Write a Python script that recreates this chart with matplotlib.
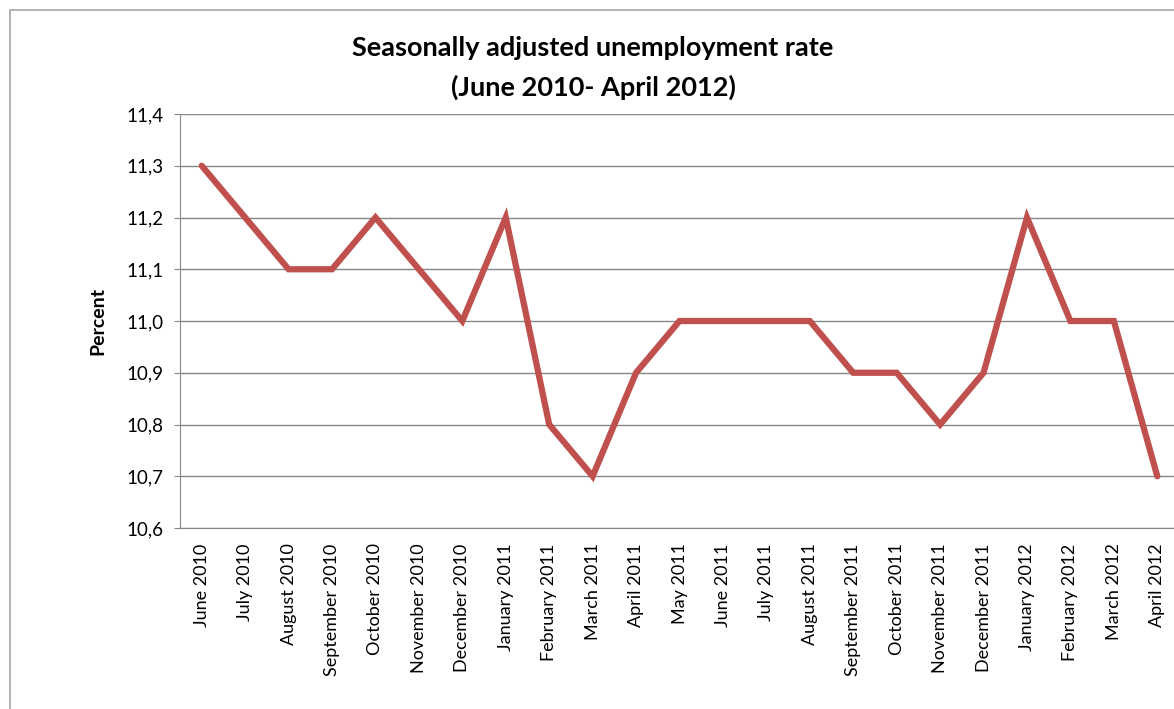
import numpy as np
import matplotlib.pyplot as plt
from matplotlib.ticker import FuncFormatter
from matplotlib.patches import Rectangle

months = ["June 2010", "July 2010", "August 2010", "September 2010", "October 2010",
          "November 2010", "December 2010", "January 2011", "February 2011", "March 2011",
          "April 2011", "May 2011", "June 2011", "July 2011", "August 2011",
          "September 2011", "October 2011", "November 2011", "December 2011",
          "January 2012", "February 2012", "March 2012", "April 2012"]
rate = [11.3, 11.2, 11.1, 11.1, 11.2, 11.1, 11.0, 11.2, 10.8, 10.7,
        10.9, 11.0, 11.0, 11.0, 11.0, 10.9, 10.9, 10.8, 10.9,
        11.2, 11.0, 11.0, 10.7]

plt.rcParams['font.family'] = ['Lato', 'DejaVu Sans']

W, H = 1174, 709
fig = plt.figure(figsize=(W / 100, H / 100), dpi=100)
fig.patches.append(Rectangle((10 / W, -0.1), 1.2, 1 - 10 / H + 0.1, transform=fig.transFigure,
                             fill=False, edgecolor='#a6a6a6', lw=1.2))

ax = fig.add_axes([180 / W, (H - 528) / H, (1179 - 180) / W, 414 / H])
x = np.arange(len(months))
ax.plot(x, rate, color='#C0504D', lw=4.5, solid_capstyle='round', solid_joinstyle='miter')
ax.set_xlim(-0.5, len(months) - 0.5)
ax.set_ylim(10.6, 11.4)
ax.set_yticks(np.arange(10.6, 11.41, 0.1))
ax.yaxis.set_major_formatter(FuncFormatter(lambda v, p: f"{v:.1f}".replace('.', ',')))
ax.set_xticks(x)
ax.set_xticklabels(months, rotation=90, fontsize=13)
ax.tick_params(axis='y', labelsize=13.5, length=4, color='#868686', pad=8)
ax.tick_params(axis='x', length=0, pad=11)
ax.grid(axis='y', color='#868686', lw=1)
ax.set_axisbelow(True)
for s in ['top', 'right']:
    ax.spines[s].set_visible(False)
for s in ['left', 'bottom']:
    ax.spines[s].set_color('#868686')
ax.set_ylabel("Percent", fontsize=14, fontweight='bold', labelpad=14)

fig.text(593 / W, 1 - 48 / H, "Seasonally adjusted unemployment rate", ha='center', va='center',
         fontsize=19.5, fontweight='bold')
fig.text(593 / W, 1 - 87 / H, "(June 2010- April 2012)", ha='center', va='center',
         fontsize=19.5, fontweight='bold')

fig.savefig("out.png", dpi=100)
